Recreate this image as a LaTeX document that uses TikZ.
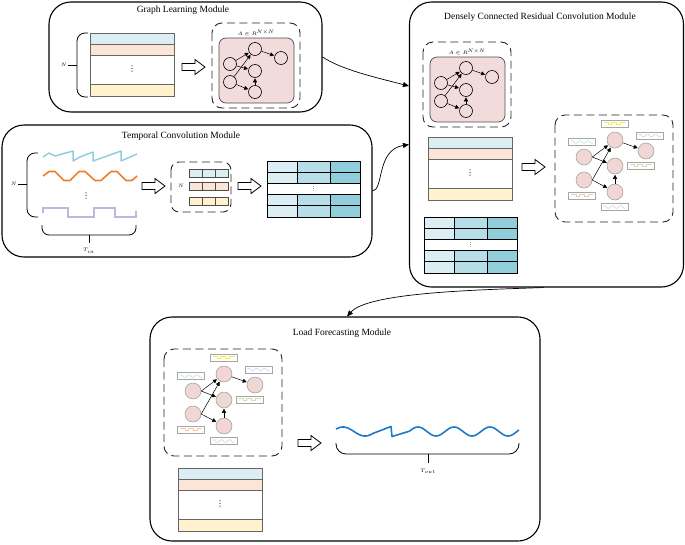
\documentclass[tikz,border=0pt]{standalone}
\usepackage{fontspec}
\setmainfont{Liberation Serif}
\newfontfamily\symfont{DejaVu Sans}
\usetikzlibrary{arrows.meta}
\definecolor{rowblue}{HTML}{DAEEF3}
\definecolor{roworange}{HTML}{FBE5D6}
\definecolor{rowyellow}{HTML}{FFF2CC}
\definecolor{mA}{HTML}{DAEEF3}
\definecolor{mB}{HTML}{B7DEE8}
\definecolor{mC}{HTML}{92CDDC}
\definecolor{pinkbox}{HTML}{F2DCDB}
\definecolor{pinknode}{HTML}{F0D6D4}
\definecolor{sawblue}{HTML}{93CDDD}
\definecolor{waveorange}{HTML}{ED7D31}
\definecolor{sqpurple}{HTML}{C3B6DE}
\definecolor{fcblue}{HTML}{1E78C8}
\definecolor{sigyellow}{HTML}{F5EC50}
\definecolor{siggreen}{HTML}{D2DFAE}
\definecolor{sigorange}{HTML}{F8C9A6}
\definecolor{siggray}{HTML}{CFCFCF}
\definecolor{sigpurple}{HTML}{CFCAE3}
\definecolor{sigblue}{HTML}{AEDBE8}

\newcommand{\featmat}[3]{%
 \begin{scope}[shift={(#1,#2)}]
  \fill[rowblue] (0,0) rectangle (84,11);
  \fill[roworange] (0,11) rectangle (84,22);
  \fill[white] (0,22) rectangle (84,51);
  \fill[rowyellow] (0,51) rectangle (84,63);
  \draw[mline] (0,0) rectangle (84,63);
  \draw[mline] (0,11)--(84,11) (0,22)--(84,22) (0,51)--(84,51);
  \node[dotsn] (#3dots) at (42,36.5) {⋮};
 \end{scope}}

\newcommand{\bluemat}[3]{%
 \begin{scope}[shift={(#1,#2)}]
  \foreach \r in {0,11.2,33.6,44.8}{
   \fill[mA] (0,\r) rectangle (30,\r+11.2);
   \fill[mB] (30,\r) rectangle (63,\r+11.2);
   \fill[mC] (63,\r) rectangle (93,\r+11.2);
   \draw[line width=0.7pt] (30,\r)--(30,\r+11.2) (63,\r)--(63,\r+11.2);}
  \draw[line width=0.7pt] (0,0) rectangle (93,56);
  \draw[line width=0.7pt] (0,11.2)--(93,11.2) (0,22.4)--(93,22.4) (0,33.6)--(93,33.6) (0,44.8)--(93,44.8);
  \node[dotsn, font=\symfont\fontsize{5.5}{5.5}\selectfont] (#3dots) at (46.5,28) {⋮};
 \end{scope}}

\newcommand{\ggraph}[3]{%
 \begin{scope}[shift={(#1,#2)}, name prefix=#3-]
  \draw[dbox] (0,0) rectangle (88,85);
  \node[small] (lab) at (44,10) {$A\in R^{N\times N}$};
  \draw[black!70, line width=0.7pt, fill=pinkbox, rounded corners=7pt] (7,15) rectangle (82,80);
  \node[gnode] (n1) at (18,41) {};
  \node[gnode] (n2) at (18,59) {};
  \node[gnode] (t) at (43,26) {};
  \node[gnode] (m) at (43,48) {};
  \node[gnode] (b) at (43,69) {};
  \node[gnode] (r) at (69,35) {};
  \draw[gedge] (n1) -- (t);
  \draw[gedge] (n1) -- (m);
  \draw[gedge] (n2) -- (t);
  \draw[gedge] (n2) -- (b);
  \draw[gedge] (b) -- (m);
  \draw[gedge] (t) -- (r);
 \end{scope}}

\newcommand{\sigsin}[3]{%
  \draw[black!35, line width=0.5pt, fill=white] (#1-13.5,#2-3.5) rectangle (#1+13.5,#2+3.5);
  \draw[#3, line width=0.5pt] plot[domain=-11:11, samples=40] ({#1+\x},{#2+1.3*sin(\x*45)});}
\newcommand{\sigsq}[3]{%
  \draw[black!35, line width=0.5pt, fill=white] (#1-13.5,#2-3.5) rectangle (#1+13.5,#2+3.5);
  \draw[#3, line width=0.5pt] (#1-11,#2-1.2) -- ++(5,0) -- ++(0,2.4) -- ++(3,0) -- ++(0,-2.4) -- ++(5,0) -- ++(0,2.4) -- ++(4,0) -- ++(0,-2.4) -- ++(5,0);}

\newcommand{\sgraph}[3]{%
 \begin{scope}[shift={(#1,#2)}, name prefix=#3-]
  \draw[dbox] (0,0) rectangle (118,107);
  \sigsq{59.5}{8.5}{sigyellow}
  \sigsin{27}{27}{sigblue}
  \sigsin{94.5}{20.5}{sigpurple}
  \sigsq{85.5}{50.5}{siggreen}
  \sigsq{27}{80.5}{sigorange}
  \sigsin{59.5}{92}{siggray}
  \node[pnode] (n1) at (29,42) {};
  \node[pnode] (n2) at (29,65) {};
  \node[pnode] (t) at (60,25) {};
  \node[pnode] (m) at (60,51) {};
  \node[pnode] (b) at (60,77) {};
  \node[pnode] (r) at (91,36) {};
  \draw[gedge] (n1.east) -- (t);
  \draw[gedge] (n1.east) -- (m);
  \draw[gedge] (n2.east) -- (t);
  \draw[gedge] (n2.east) -- (b);
  \draw[gedge] (b) -- (m);
  \draw[gedge] (t) -- (r);
 \end{scope}}

\begin{document}
\begin{tikzpicture}[x=1pt,y=-1pt,
  module/.style={draw, line width=1.1pt, rounded corners=22pt, inner sep=0},
  title/.style={font=\fontsize{9.5}{11}\selectfont},
  small/.style={font=\fontsize{5.5}{6}\selectfont, inner sep=1pt},
  dotsn/.style={font=\symfont\fontsize{8}{8}\selectfont, inner sep=0},
  dbox/.style={draw=black!85, line width=0.9pt, dash pattern=on 8pt off 4.5pt, rounded corners=10pt},
  gnode/.style={circle, draw, line width=0.6pt, minimum size=13pt, inner sep=0},
  pnode/.style={circle, draw=black!40, line width=0.5pt, fill=pinknode, minimum size=16pt, inner sep=0},
  gedge/.style={-{Triangle[length=4pt,width=4pt]}, line width=0.5pt, shorten >=0.5pt},
  conn/.style={-{Triangle[length=6pt,width=5pt]}, line width=0.7pt},
  mline/.style={draw=black!60, line width=1pt},
  brk/.style={line width=0.8pt},
  oarr/.pic={\draw[line width=0.8pt, fill=white] (0,-3.5)--(13,-3.5)--(13,-7.5)--(23,0)--(13,7.5)--(13,3.5)--(0,3.5)--cycle;}
]
\useasboundingbox (0,0) rectangle (685,544);

% ---------- modules ----------
\node[module, minimum width=273pt, minimum height=110pt] (glm) at (185.5,57) {};
\node[module, minimum width=370pt, minimum height=132pt] (tcm) at (187,191) {};
\node[module, minimum width=274pt, minimum height=285pt] (dcr) at (546.5,144.5) {};
\node[module, minimum width=390pt, minimum height=224pt] (lfm) at (345,429) {};

\node[title] (glmt) at (183,10) {Graph Learning Module};
\node[title] (tcmt) at (181,136) {Temporal Convolution Module};
\node[title] (dcrt) at (540,17) {Densely Connected Residual Convolution Module};
\node[title] (lfmt) at (342,333) {Load Forecasting Module};

% ---------- Graph Learning Module ----------
\featmat{90}{33}{glmm}
\draw[brk, rounded corners=8pt] (88,33) -- (77,33) -- (77,97) -- (88,97);
\draw[brk] (68,65) -- (77,65);
\node[small, anchor=east] (glmN) at (68,65) {$N$};
\pic at (182,67) {oarr};
\ggraph{212}{23}{gl}

% ---------- Temporal Convolution Module ----------
\draw[sawblue, line width=1.5pt, line join=round] (43,157)--(49,153)--(55,156)--(73,151)--(73,161)--(80,157)--(93,152)--(93,161)--(121,151)--(121,161)--(137,154);
\draw[waveorange, line width=1.6pt, line join=round] (43,176)--(49,171.5)--(55,171.5)--(64,180.5)--(70,180.5)--(79,171.5)--(85,171.5)--(95,180.5)--(101,180.5)--(111,171.5)--(117,171.5)--(126,180.5)--(132,180.5)--(137,176);
\node[dotsn] (tcmdots) at (86,196) {⋮};
\draw[sqpurple, line width=1.4pt] (43,213)--(43,208)--(68,208)--(68,217)--(94,217)--(94,208)--(115,208)--(115,217)--(136,217)--(136,211);
\draw[brk, rounded corners=8pt] (38,153) -- (27,153) -- (27,217) -- (38,217);
\draw[brk] (18,184) -- (27,184);
\node[small, anchor=east] (tcmN) at (18,184) {$N$};
\draw[brk, rounded corners=7pt] (42,225) -- (42,235) -- (136,235) -- (136,225);
\draw[brk] (89,235) -- (89,243);
\node[small] (tin) at (89,251) {$T_{in}$};
\pic at (142,186) {oarr};
\draw[dbox, rounded corners=8pt] (171,162) rectangle (231,212);
\node[small] (innerN) at (181,186) {$N$};
\foreach \yy/\cc in {169/rowblue,182/roworange,197/rowyellow}{
  \draw[black!70, line width=0.7pt, fill=\cc] (189,\yy) rectangle (228,\yy+8);
  \draw[black!70, line width=0.7pt] (202,\yy)--(202,\yy+8) (215,\yy)--(215,\yy+8);}
\pic at (238,186) {oarr};
\bluemat{267}{161}{tcmb}

% ---------- Densely Connected Residual Convolution Module ----------
\ggraph{423}{42}{dc}
\featmat{428}{137}{dcm}
\pic at (522,167) {oarr};
\sgraph{555}{115}{ds}
\bluemat{424}{217}{dcb}

% ---------- Load Forecasting Module ----------
\sgraph{164}{349}{lf}
\featmat{178}{468}{lfmm}
\pic at (298,443) {oarr};
\draw[fcblue, line width=1.6pt, line join=round]
  plot[domain=336:373, samples=40] (\x,{431.5-4.5*cos(8.18*(\x-343))})
  -- (391,426.5) -- (392,436.5) -- (410,431)
  plot[domain=410:519, samples=80] (\x,{431.5-4.5*cos(10*(\x-418))});
\draw[brk, rounded corners=10pt] (336,443) -- (336,454) -- (519,454) -- (519,443);
\draw[brk] (428,454) -- (428,463);
\node[small] (tout) at (428,471) {$T_{out}$};

% ---------- connectors ----------
\draw[conn] (glm.east) .. controls (342,70) and (378,78) .. ([yshift=58.5pt]dcr.west);
\draw[conn] (tcm.east) .. controls (384,190) and (376,150) .. (dcr.west);
\draw[conn] ([xshift=-3pt]dcr.south) .. controls (470,290) and (368,293) .. ([xshift=2pt]lfm.north);
\end{tikzpicture}
\end{document}
